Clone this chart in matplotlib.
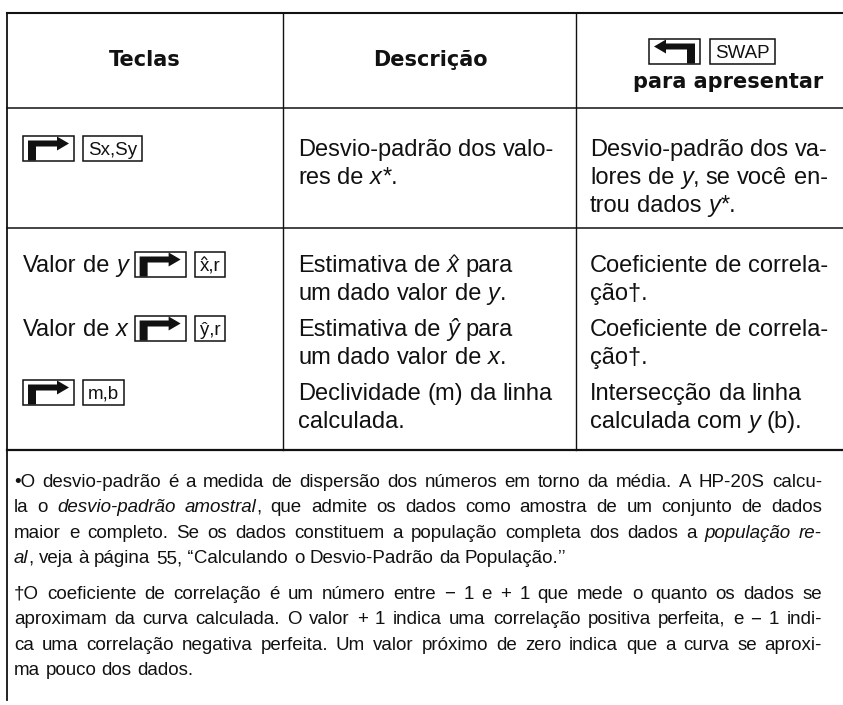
import matplotlib
matplotlib.use("Agg")
import matplotlib.pyplot as plt
from matplotlib.patches import Rectangle, Polygon

# table content ("_" toggles italic, [rs] = right-shift key, [..] = labelled key)
headers = ["Teclas", "Descrição", "para apresentar"]
keys_col = ["[rs] [Sx,Sy]", "Valor de _y_ [rs] [x̂,r]", "Valor de _x_ [rs] [ŷ,r]", "[rs] [m,b]"]
desc_col = [["Desvio-padrão dos valo-", "res de _x_*."],
            ["Estimativa de _x̂_ para", "um dado valor de _y_."],
            ["Estimativa de _ŷ_ para", "um dado valor de _x_."],
            ["Declividade (m) da linha", "calculada."]]
swap_col = [["Desvio-padrão dos va-", "lores de _y_, se você en-", "trou dados _y_*."],
            ["Coeficiente de correla-", "ção†."],
            ["Coeficiente de correla-", "ção†."],
            ["Intersecção da linha", "calculada com _y_ (b)."]]
row_centers = [148, 264, 328, 392]
notes = [
    ["•O desvio-padrão é a medida de dispersão dos números em torno da média. A HP-20S calcu-",
     "la o _desvio-padrão amostral_, que admite os dados como amostra de um conjunto de dados",
     "maior e completo. Se os dados constituem a população completa dos dados a _população re-_",
     "_al_, veja à página 55, ‘‘Calculando o Desvio-Padrão da População.’’"],
    ["†O coeficiente de correlação é um número entre  − 1 e  + 1 que mede o quanto os dados se",
     "aproximam da curva calculada. O valor  + 1 indica uma correlação positiva perfeita, e  − 1 indi-",
     "ca uma correlação negativa perfeita. Um valor próximo de zero indica que a curva se aproxi-",
     "ma pouco dos dados."],
]
note_tops = [480, 592]

W, H = 843, 705
fig = plt.figure(figsize=(W / 100, H / 100), dpi=100)
ax = fig.add_axes([0, 0, 1, 1])
ax.set_xlim(0, W)
ax.set_ylim(H, 0)
ax.axis("off")
rend = fig.canvas.get_renderer()

k = "#111111"
HAT = "\u0302"
body = dict(family="Liberation Sans", size=17, color=k)
small = dict(family="Liberation Sans", size=13.5, color=k)
keyf = dict(family="Liberation Sans", size=13.5, color=k)


def width(s, fp):
    t = ax.text(0, 0, s, **fp)
    w = t.get_window_extent(rend).width
    t.remove()
    return w


def em(fp):
    return fp["size"] * 100 / 72


def base_off(fp):
    # half the cap height, in px
    return em(fp) * 0.716 / 2


def tokens(line):
    # -> list of words, each a list of (text, italic)
    out, it = [], False
    for w in line.split(" "):
        if not w:
            continue
        if w.startswith("["):
            out.append(w)
            continue
        parts = w.split("_")
        segs = []
        for j, p in enumerate(parts):
            if j > 0:
                it = not it
            if p:
                segs.append((p, it))
        out.append(segs)
    return out


def seg_fp(fp, it):
    return dict(fp, style="italic" if it else "normal")


def put(x, yb, txt, fp, ha="left"):
    # draws txt; a combining hat is drawn by hand over the preceding letter
    if HAT in txt:
        base = txt.replace(HAT, "")
        i = txt.index(HAT) - 1
        if ha == "center":
            x -= width(base, fp) / 2
        x0 = x + width(txt[:i], fp)
        cw = width(txt[i], fp)
        e = em(fp)
        cx = x0 + cw / 2 + (0.06 * e if fp.get("style") == "italic" else 0)
        ylo, yhi = yb - 0.6 * e, yb - 0.75 * e
        ax.text(x, yb, base, va="baseline", ha="left", **fp)
        ax.plot([cx - 0.13 * e, cx, cx + 0.13 * e], [ylo, yhi, ylo], color=k, lw=0.9,
                solid_joinstyle="miter")
        return width(base, fp)
    ax.text(x, yb, txt, va="baseline", ha=ha, **fp)
    return width(txt, fp)


def draw_word(x, yc, segs, fp):
    yb = yc + base_off(fp)
    for txt, it in segs:
        x += put(x, yb, txt, seg_fp(fp, it))
    return x


def word_w(segs, fp):
    return sum(width(t.replace(HAT, ""), seg_fp(fp, it)) for t, it in segs)


def shift_key(x, yc, right=True):
    w, h = 51, 25
    top = yc - h / 2
    ax.add_patch(Rectangle((x, top), w, h, fill=False, lw=1.1, ec=k))
    if right:
        pts = [(x + 5, top + h), (x + 5, top + 5), (x + 34, top + 5), (x + 34, top + 1),
               (x + 46, top + 8), (x + 34, top + 15), (x + 34, top + 11), (x + 13, top + 11),
               (x + 13, top + h)]
    else:
        pts = [(x + w - 5, top + h), (x + w - 5, top + 5), (x + 17, top + 5), (x + 17, top + 1),
               (x + 5, top + 8), (x + 17, top + 15), (x + 17, top + 11), (x + w - 13, top + 11),
               (x + w - 13, top + h)]
    ax.add_patch(Polygon(pts, closed=True, fc=k, ec="none"))
    return x + w


def label_key(x, yc, label):
    w = width(label.replace(HAT, ""), keyf) + 10
    ax.add_patch(Rectangle((x, yc - 12.5), w, 25, fill=False, lw=1.1, ec=k))
    put(x + w / 2, yc + base_off(keyf), label, keyf, ha="center")
    return x + w


def draw_line(x, yc, line, fp):
    sp = width("a a", fp) - width("aa", fp)
    for tok in tokens(line):
        if tok == "[rs]":
            x = shift_key(x, yc) + 9
        elif isinstance(tok, str):
            x = label_key(x, yc, tok[1:-1]) + 9
        else:
            x = draw_word(x, yc, tok, fp) + sp


def justify(x0, x1, yc, line, fp):
    words = tokens(line)
    total = sum(word_w(w, fp) for w in words)
    gap = (x1 - x0 - total) / (len(words) - 1)
    x = x0
    for w in words:
        x = draw_word(x, yc, w, fp) + gap


# grid lines
ax.plot([7, W], [13, 13], color=k, lw=1.5)
ax.plot([7, 7], [13, 700], color=k, lw=1.3)
for yy in [108, 228]:
    ax.plot([7, W], [yy, yy], color=k, lw=1.1)
ax.plot([7, W], [450, 450], color=k, lw=1.6)
for xx in [283, 576]:
    ax.plot([xx, xx], [13, 450], color=k, lw=1.0)

# header
hf = dict(family="DejaVu Sans", weight="bold", size=15, color=k)
ax.text(145, 60, headers[0], ha="center", va="center", **hf)
ax.text(430, 60, headers[1], ha="center", va="center", **hf)
ax.text(728, 82, headers[2], ha="center", va="center", **hf)
xe = shift_key(649, 51, right=False)
label_key(xe + 10, 51, "SWAP")

# rows
for kl, desc, swap, yc in zip(keys_col, desc_col, swap_col, row_centers):
    draw_line(23, yc, kl, body)
    for i, ln in enumerate(desc):
        draw_line(298, yc + 28 * i, ln, body)
    for i, ln in enumerate(swap):
        draw_line(590, yc + 28 * i, ln, body)

# footnotes
for par, top in zip(notes, note_tops):
    for i, ln in enumerate(par):
        yy = top + 25.5 * i
        if i == len(par) - 1:
            draw_line(14, yy, ln, small)
        else:
            justify(14, 822, yy, ln, small)

fig.savefig("out.png", dpi=100)
